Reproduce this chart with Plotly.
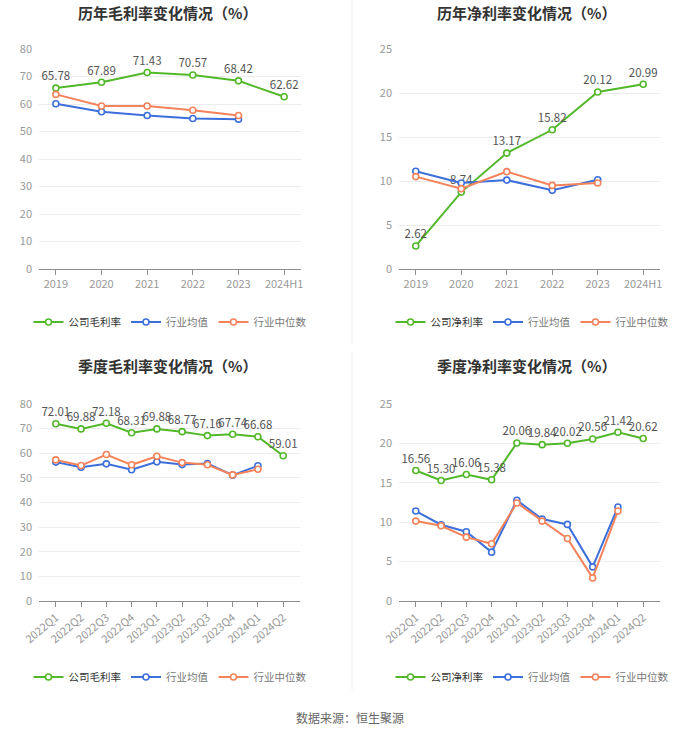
import plotly.graph_objects as go

# ---------------- data ----------------
years = ["2019", "2020", "2021", "2022", "2023", "2024H1"]
year_gross_company = [65.78, 67.89, 71.43, 70.57, 68.42, 62.62]
year_gross_avg = [60.1, 57.2, 55.8, 54.7, 54.5, None]
year_gross_median = [63.5, 59.3, 59.3, 57.7, 55.8, None]

year_net_company = [2.62, 8.74, 13.17, 15.82, 20.12, 20.99]
year_net_avg = [11.1, 9.77, 10.1, 8.94, 10.15, None]
year_net_median = [10.5, 9.13, 11.06, 9.5, 9.77, None]

quarters = ["2022Q1", "2022Q2", "2022Q3", "2022Q4", "2023Q1", "2023Q2",
            "2023Q3", "2023Q4", "2024Q1", "2024Q2"]
q_gross_company = [72.01, 69.88, 72.18, 68.31, 69.88, 68.77, 67.16, 67.74, 66.68, 59.01]
q_gross_avg = [56.4, 54.3, 55.7, 53.3, 56.5, 55.4, 55.8, 51.1, 54.9, None]
q_gross_median = [57.3, 55.0, 59.5, 55.3, 58.8, 56.2, 55.3, 51.2, 53.5, None]

q_net_company = [16.56, 15.30, 16.06, 15.38, 20.06, 19.84, 20.02, 20.56, 21.42, 20.62]
q_net_avg = [11.42, 9.68, 8.79, 6.2, 12.78, 10.4, 9.72, 4.33, 11.93, None]
q_net_median = [10.14, 9.55, 8.1, 7.26, 12.44, 10.14, 7.94, 2.93, 11.42, None]

titles = ["历年毛利率变化情况（%）", "历年净利率变化情况（%）",
          "季度毛利率变化情况（%）", "季度净利率变化情况（%）"]
company_names = ["公司毛利率", "公司净利率", "公司毛利率", "公司净利率"]
avg_name = "行业均值"
median_name = "行业中位数"
source_text = "数据来源：恒生聚源"

# ---------------- style ----------------
FONT = "Noto Sans CJK SC"
GREEN = "#52b82a"
BLUE = "#3d6fdb"
ORANGE = "#f4825a"
W, H = 700, 734

panels = [
    dict(cats=years, comp=year_gross_company, avg=year_gross_avg, med=year_gross_median,
         x=(39, 301), y=(49, 269), rng=80, dtick=10, angle=0),
    dict(cats=years, comp=year_net_company, avg=year_net_avg, med=year_net_median,
         x=(399, 660), y=(49, 269), rng=25, dtick=5, angle=0),
    dict(cats=quarters, comp=q_gross_company, avg=q_gross_avg, med=q_gross_median,
         x=(39, 300), y=(404, 601), rng=80, dtick=10, angle=-40),
    dict(cats=quarters, comp=q_net_company, avg=q_net_avg, med=q_net_median,
         x=(399, 660), y=(404, 601), rng=25, dtick=5, angle=-40),
]
title_pos = [(167, 12), (526, 12), (167, 366), (526, 366)]
legend_pos = [(170, 322), (532, 322), (170, 677), (532, 677)]

fig = go.Figure()

for i, p in enumerate(panels):
    n = "" if i == 0 else str(i + 1)
    xa, ya = "x" + n, "y" + n
    lg = "legend" + n

    def mk(vals, color, name, text=False, dark=False):
        label = f"<span style='color:{'#333' if dark else '#777'}'>{name}</span>"
        return go.Scatter(
            x=p["cats"], y=vals, name=label, xaxis=xa, yaxis=ya, legend=lg,
            mode="lines+markers+text" if text else "lines+markers",
            line=dict(color=color, width=2),
            marker=dict(symbol="circle", size=6, color="white",
                        line=dict(color=color, width=1.6)),
            text=[f"{v:.2f}" for v in vals] if text else None,
            textposition="top center",
            textfont=dict(size=11.5, color="#555", family=FONT),
            cliponaxis=False, connectgaps=False,
        )
    fig.add_trace(mk(p["comp"], GREEN, company_names[i], text=True, dark=True))
    fig.add_trace(mk(p["avg"], BLUE, avg_name))
    fig.add_trace(mk(p["med"], ORANGE, median_name))

    x0, x1 = p["x"]
    y0, y1 = p["y"]
    fig.layout["xaxis" + n] = dict(
        domain=[x0 / W, x1 / W], anchor=ya, type="category",
        showline=True, linecolor="#8c8c8c", linewidth=1,
        ticks="outside", ticklen=5, tickcolor="#8c8c8c",
        tickangle=p["angle"], showgrid=False, automargin=False,
        tickfont=dict(size=11, color="#999", family=FONT),
        fixedrange=True,
    )
    fig.layout["yaxis" + n] = dict(
        domain=[(H - y1) / H, (H - y0) / H], anchor=xa,
        range=[0, p["rng"]], dtick=p["dtick"],
        showgrid=True, gridcolor="#ececec", gridwidth=1,
        zeroline=False, showline=False, automargin=False,
        tickfont=dict(size=11, color="#999", family=FONT),
        ticklabelstandoff=6, fixedrange=True,
    )
    lx, ly = legend_pos[i]
    fig.layout[lg] = dict(
        x=lx / W, y=1 - ly / H, xanchor="center", yanchor="middle",
        orientation="h", font=dict(size=10.5, color="#666", family=FONT),
        bgcolor="rgba(0,0,0,0)", itemwidth=30, tracegroupgap=0,
    )
    tx, ty = title_pos[i]
    fig.add_annotation(
        text=f"<b>{titles[i]}</b>", x=tx / W, y=1 - ty / H,
        xref="paper", yref="paper", xanchor="center", yanchor="middle",
        showarrow=False, font=dict(size=15, color="#333", family=FONT),
    )

fig.add_annotation(
    text=source_text, x=350 / W, y=1 - 717 / H, xref="paper", yref="paper",
    xanchor="center", yanchor="middle", showarrow=False,
    font=dict(size=12, color="#666", family=FONT),
)

# faint divider lines
fig.add_shape(type="line", xref="paper", yref="paper",
              x0=352 / W, x1=352 / W, y0=1 - 345 / H, y1=1.0,
              line=dict(color="#f0f0f0", width=1))
fig.add_shape(type="line", xref="paper", yref="paper",
              x0=352 / W, x1=352 / W, y0=1 - 690 / H, y1=1 - 352 / H,
              line=dict(color="#f0f0f0", width=1))

fig.update_layout(
    width=W, height=H, margin=dict(l=0, r=0, t=0, b=0, autoexpand=False),
    paper_bgcolor="white", plot_bgcolor="white",
    font=dict(family=FONT), showlegend=True, hovermode=False,
)

fig.write_html(
    "out.html",
    config={"displayModeBar": False, "staticPlot": True},
    post_script="document.body.style.margin='0px';document.body.style.overflow='hidden';",
)
